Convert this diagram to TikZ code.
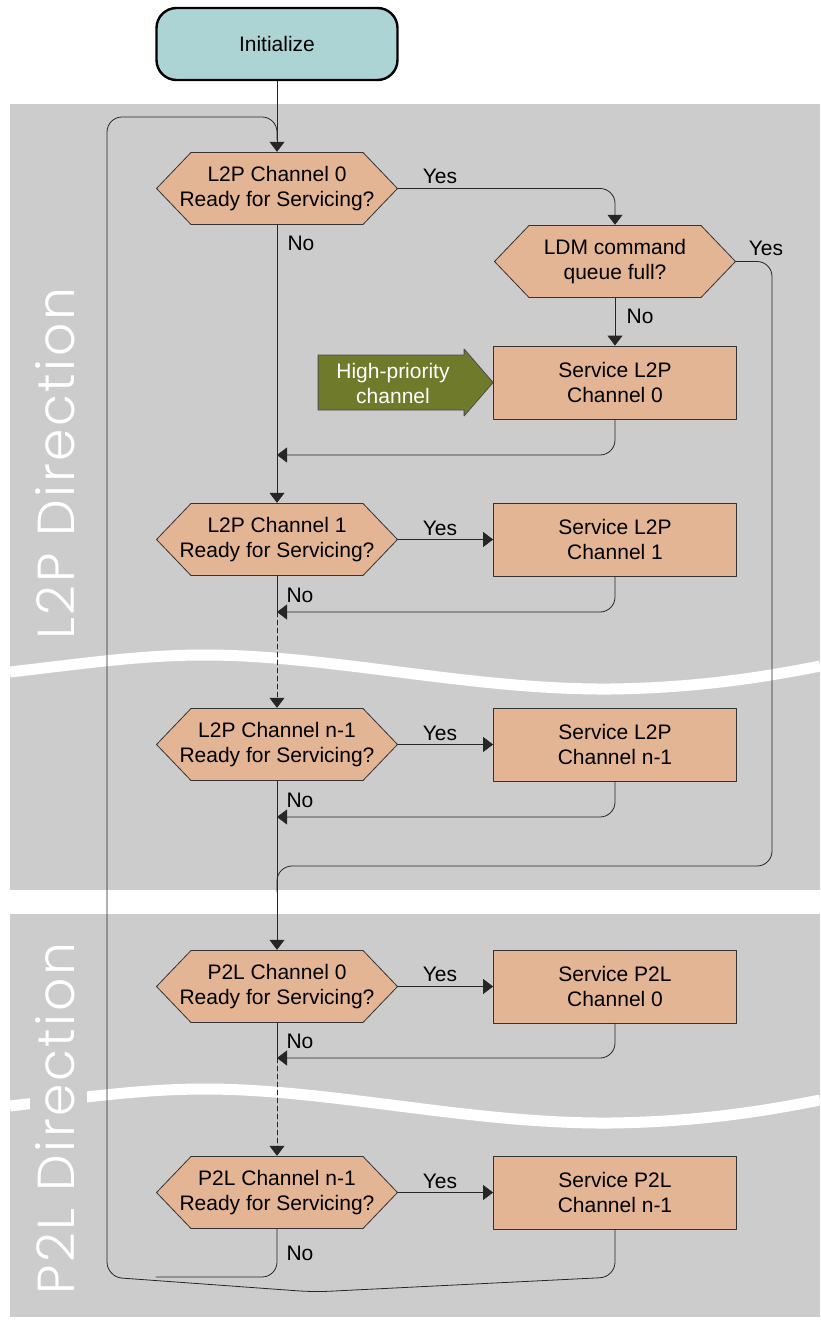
\documentclass[tikz,border=0pt]{standalone}
\usepackage{fontspec}
\setmainfont{Liberation Sans}
\IfFontExistsTF{Poppins Light}{\newfontfamily\dirfont[LetterSpace=5]{Poppins Light}}{\newfontfamily\dirfont[LetterSpace=5]{Poppins}}
\usepackage{tikz}
\usetikzlibrary{arrows.meta}
\definecolor{cccccc}{rgb}{0.8,0.8,0.8}
\definecolor{eebbaa}{rgb}{0.89,0.71,0.58}
\definecolor{aadddd}{rgb}{0.68,0.83,0.83}
\definecolor{xqxbcb}{rgb}{0.44,0.48,0.17}

\begin{document}
\begin{tikzpicture}[line cap=round,line join=round,>={Triangle[width=15pt,length=10pt]},x=1pt,y=-1pt,
		every node/.style={font=\fontsize{21}{25}\selectfont},
		terminal/.style={rectangle,rounded corners=20pt,draw=black,line width=2.4pt,fill=aadddd,minimum width=241pt,minimum height=72pt},
		decision/.style={rectangle,fill=cccccc,minimum width=242pt,minimum height=73pt,align=center,
			path picture={\draw[fill=eebbaa,draw=black!80,line width=0.8pt]
				([xshift=0.5pt]path picture bounding box.west)
				-- ([shift={(35pt,-0.5pt)}]path picture bounding box.north west)
				-- ([shift={(-35pt,-0.5pt)}]path picture bounding box.north east)
				-- ([xshift=-0.5pt]path picture bounding box.east)
				-- ([shift={(-35pt,0.5pt)}]path picture bounding box.south east)
				-- ([shift={(35pt,0.5pt)}]path picture bounding box.south west) -- cycle;}},
		process/.style={rectangle,draw=black!80,line width=0.8pt,fill=eebbaa,minimum width=243pt,minimum height=73pt,align=center},
		flow/.style={line width=0.8pt,draw=black!85},
		direction/.style={rotate=90,anchor=base west,text=white,fill=cccccc,inner sep=0pt,text height=44pt,text depth=13pt,font=\dirfont\fontsize{52}{52}\selectfont}]
			\useasboundingbox (0,0) rectangle (820,1321);
			
			% background panels and breaks
			\fill[cccccc] (10,104) rectangle (820,890);
			\fill[cccccc] (10,914) rectangle (820,1317);
			\foreach \dy in {0,434}
				\draw[shift={(0,\dy)},white,line width=11pt,line cap=butt] (10,672) .. controls (80,664) and (140,655) .. (205,655) .. controls (330,655) and (470,690) .. (610,689) .. controls (700,688) and (770,676) .. (820,666);
			\node[direction] (dir1) at (74,640) {L2P Direction};
			\node[direction] (dir2) at (74,1295) {P2L Direction};
			
			% nodes
			\node[terminal] (init) at (277,44) {Initialize};
			\node[decision] (l2p0) at (277,188.5) {L2P Channel 0\\Ready for Servicing?};
			\node[decision] (ldm) at (615,261.5) {LDM command\\queue full?};
			\node[process] (srv0) at (615,382.5) {Service L2P\\Channel 0};
			\node[decision] (l2p1) at (277,539.5) {L2P Channel 1\\Ready for Servicing?};
			\node[process] (srv1) at (615,539.5) {Service L2P\\Channel 1};
			\node[decision] (l2pn) at (277,744.5) {L2P Channel n-1\\Ready for Servicing?};
			\node[process] (srvn) at (615,744.5) {Service L2P\\Channel n-1};
			\node[decision] (p2l0) at (277,986.5) {P2L Channel 0\\Ready for Servicing?};
			\node[process] (psrv0) at (615,986.5) {Service P2L\\Channel 0};
			\node[decision] (p2ln) at (277,1192.5) {P2L Channel n-1\\Ready for Servicing?};
			\node[process] (psrvn) at (615,1192.5) {Service P2L\\Channel n-1};
			
			% high-priority marker
			\draw[fill=xqxbcb,draw=black!70,line width=0.8pt] (srv0.west) -- ++(-29,33.5) -- ++(0,-6) -- ++(-146,0) -- ++(0,-55) -- ++(146,0) -- ++(0,-6) -- cycle;
			\node[text=white,align=center] (hp) at (393,383) {High-priority\\channel};
			
			% joins
			\coordinate (j0) at (277,455);
			\coordinate (j1) at (277,612);
			\coordinate (j2) at (277,817);
			\coordinate (j3) at (277,1058);
			\coordinate (jy) at (277,892);
			\coordinate (jtop) at (277,140);
			\coordinate (lend) at (156,1277);
			
			% connectors
			\draw[flow,->] (init) -- (l2p0);
			\draw[flow,->,rounded corners=15pt] (l2p0) -| (ldm);
			\draw[flow,->] (ldm) -- (srv0);
			\draw[flow,->] (l2p0) -- (l2p1);
			\draw[flow,->,rounded corners=15pt] (srv0) |- (j0);
			\draw[flow,rounded corners=15pt] (ldm) -| (772,866) -| (jy);
			
			\draw[flow,->] (l2p1) -- (srv1);
			\draw[flow,->,rounded corners=15pt] (srv1) |- (j1);
			\draw[flow] (l2p1) -- (j1);
			\draw[flow,->,dash pattern=on 5pt off 3pt] (j1) -- (l2pn);
			
			\draw[flow,->] (l2pn) -- (srvn);
			\draw[flow,->,rounded corners=15pt] (srvn) |- (j2);
			\draw[flow,->] (l2pn) -- (p2l0);
			
			\draw[flow,->] (p2l0) -- (psrv0);
			\draw[flow,->,rounded corners=15pt] (psrv0) |- (j3);
			\draw[flow] (p2l0) -- (j3);
			\draw[flow,->,dash pattern=on 5pt off 3pt] (j3) -- (p2ln);
			
			\draw[flow,->] (p2ln) -- (psrvn);
			\draw[flow,rounded corners=15pt] (p2ln) |- (lend);
			\draw[flow,rounded corners=15pt] (psrvn) -- (615,1277) -- (314,1292) -- (107,1277) -- (107,117) -| (jtop);
			
			% answers
			\node (yes0) at (440,176) {Yes};
			\node (no0) at (301,243) {No};
			\node (yesq) at (766,248) {Yes};
			\node (noq) at (640,316) {No};
			\node (yes1) at (440,528) {Yes};
			\node (no1) at (300,595) {No};
			\node (yesn) at (440,733) {Yes};
			\node (non) at (300,800) {No};
			\node (pyes0) at (440,974) {Yes};
			\node (pno0) at (300,1041) {No};
			\node (pyesn) at (440,1181) {Yes};
			\node (pnon) at (300,1253) {No};
		\end{tikzpicture}
\end{document}
